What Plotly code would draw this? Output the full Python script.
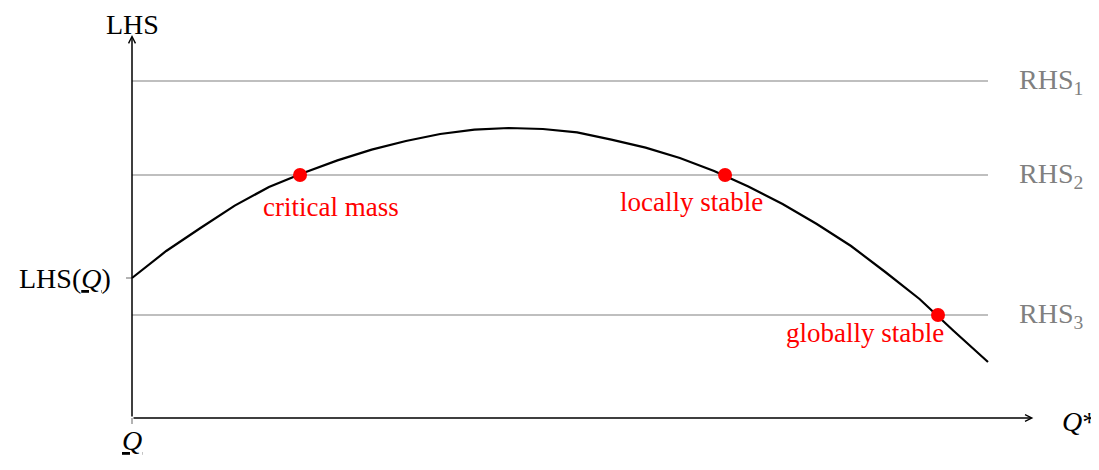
import plotly.graph_objects as go

# Curve LHS(Q*) (x in axis units 0..10)
curve_x = [0.0, 0.4, 0.8, 1.2, 1.6, 2.0, 2.4, 2.8, 3.2, 3.6, 4.0, 4.4, 4.8,
           5.2, 5.6, 6.0, 6.4, 6.8, 7.2, 7.6, 8.0, 8.4, 8.8, 9.2, 9.6, 10.0]
curve_y = [3.5, 4.175, 4.75, 5.31, 5.775, 6.125, 6.44, 6.71, 6.925, 7.1, 7.21,
           7.25, 7.225, 7.14, 6.96, 6.76, 6.5, 6.175, 5.79, 5.35, 4.85, 4.3,
           3.65, 2.975, 2.175, 1.4]

rhs_names = ["RHS<sub>1</sub>", "RHS<sub>2</sub>", "RHS<sub>3</sub>"]
rhs_values = [8.425, 6.075, 2.575]

eq_names = ["critical mass", "locally stable", "globally stable"]
eq_x = [1.963, 6.928, 9.416]
eq_y = [6.075, 6.075, 2.575]

lhs_q = 3.5
x_end = 10.0
x_axis_end = 10.53
y_axis_end = 9.575

FONT = "Liberation Serif"
GRAY = "#808080"

fig = go.Figure()

# RHS horizontal lines
for v in rhs_values:
    fig.add_trace(go.Scatter(x=[0, x_end], y=[v, v], mode="lines",
                             line=dict(color=GRAY, width=1.2),
                             hoverinfo="skip", showlegend=False))

# curve
fig.add_trace(go.Scatter(x=curve_x, y=curve_y, mode="lines",
                         line=dict(color="black", width=2.2),
                         hoverinfo="skip", showlegend=False))

# equilibria
fig.add_trace(go.Scatter(x=eq_x, y=eq_y, mode="markers",
                         marker=dict(color="red", size=14),
                         hoverinfo="skip", showlegend=False))

# small gray ticks
fig.add_shape(type="line", x0=-0.07, x1=0, y0=lhs_q, y1=lhs_q,
              line=dict(color=GRAY, width=1.2))
fig.add_shape(type="line", x0=0, x1=0, y0=0, y1=-0.15,
              line=dict(color=GRAY, width=1.2))

annotations = []
# axes with arrows
annotations.append(dict(x=x_axis_end, y=0, ax=0, ay=0, xref="x", yref="y",
                        axref="x", ayref="y", text="", showarrow=True,
                        arrowhead=5, arrowsize=0.9, arrowwidth=1.5,
                        arrowcolor="black", standoff=0, startstandoff=0))
annotations.append(dict(x=0, y=y_axis_end, ax=0, ay=0, xref="x", yref="y",
                        axref="x", ayref="y", text="", showarrow=True,
                        arrowhead=5, arrowsize=0.9, arrowwidth=1.5,
                        arrowcolor="black", standoff=0, startstandoff=0))

big = dict(family=FONT, size=28, color="black")
annotations += [
    dict(x=0, y=9.85, text="LHS", showarrow=False, font=big,
         xanchor="center", yanchor="middle"),
    dict(x=-0.22, y=lhs_q, text="LHS(<i><u>Q</u></i>)", showarrow=False,
         font=big, xanchor="right", yanchor="middle"),
    dict(x=0, y=-0.55, text="<i><u>Q</u></i>", showarrow=False, font=big,
         xanchor="center", yanchor="middle"),
    dict(x=10.84, y=-0.08, text="<i>Q</i>*", showarrow=False,
         font=big, xanchor="left", yanchor="middle"),
]

for name, v in zip(rhs_names, rhs_values):
    annotations.append(dict(x=10.34, y=v, text=name, showarrow=False,
                            font=dict(family=FONT, size=28, color=GRAY),
                            xanchor="left", yanchor="middle"))

label_pos = [(2.325, 5.275), (6.536, 5.4), (8.563, 2.125)]
for name, (lx, ly) in zip(eq_names, label_pos):
    annotations.append(dict(x=lx, y=ly, text=name, showarrow=False,
                            font=dict(family=FONT, size=27, color="red"),
                            xanchor="center", yanchor="middle"))

# page has an 8px body margin: figure starts at page pixel (8, 8)
fig.update_layout(
    width=1091, height=462,
    margin=dict(l=0, r=0, t=0, b=0),
    paper_bgcolor="white", plot_bgcolor="white",
    xaxis=dict(range=[-1.4486, 11.2967], visible=False, fixedrange=True),
    yaxis=dict(range=[-1.3, 10.25], visible=False, fixedrange=True),
    annotations=annotations,
    showlegend=False,
)

fig.write_html("out.html")
